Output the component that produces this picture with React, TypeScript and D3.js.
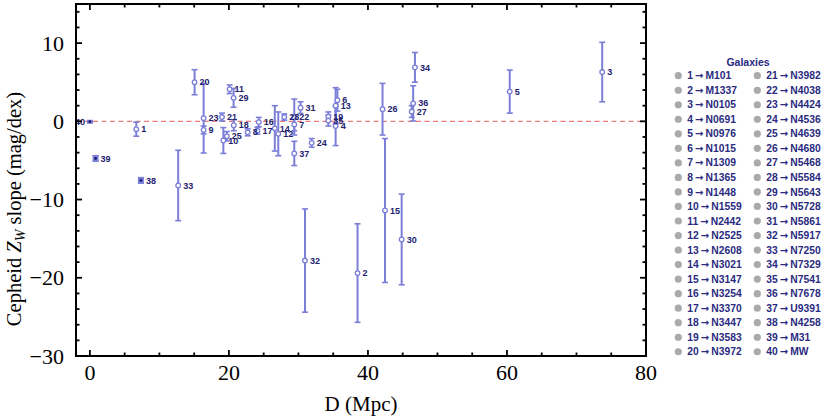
import React from "react";
import * as d3 from "d3";

const ids = [1,2,3,4,5,6,7,8,9,10,11,12,13,14,15,16,17,18,19,20,21,22,23,24,25,26,27,28,29,30,31,32,33,34,35,36,37,38,39,40];
const names = ["M101","M1337","N0105","N0691","N0976","N1015","N1309","N1365","N1448","N1559","N2442","N2525","N2608","N3021","N3147","N3254","N3370","N3447","N3583","N3972","N3982","N4038","N4424","N4536","N4639","N4680","N5468","N5584","N5643","N5728","N5861","N5917","N7250","N7329","N7541","N7678","U9391","N4258","M31","MW"];
const distances = [6.67,38.5,73.7,35.35,60.4,35.6,29.4,22.7,16.36,19.2,20.1,27.1,35.35,26.6,42.45,24.3,24.1,20.7,34.3,15.06,19.0,29.4,16.36,31.9,19.7,42.1,46.3,27.96,20.67,44.85,30.3,30.94,12.7,46.76,34.3,46.5,29.4,7.34,0.82,0.0];
const slopes = [-1.0,-19.4,6.3,-0.6,3.8,2.7,-0.4,-1.4,-1.1,-2.45,4.1,-1.6,2.0,-0.9,-11.4,-0.1,-1.2,-0.5,0.6,5.0,0.55,0.55,0.4,-2.75,-1.9,1.55,1.25,0.55,3.0,-15.1,1.75,-17.8,-8.2,6.9,0.1,2.3,-4.1,-7.55,-4.75,-0.05];
const errors = [0.9,6.3,3.8,2.5,2.75,1.4,0.8,0.45,0.5,1.65,0.55,2.8,2.3,2.9,9.2,0.6,0.45,0.7,0.6,1.6,0.5,2.3,4.45,0.55,0.6,3.3,0.75,0.4,1.2,5.8,0.75,6.6,4.5,1.9,0.7,2.25,1.55,0.35,0.35,0.15];
const xTicks = [0,20,40,60,80];
const yTicks = [-30,-20,-10,0,10];

const W = 830, H = 420;
const L = 76, R = 646, T = 4, B = 356;

export default function App() {
  const x = d3.scaleLinear().domain([-2, 80]).range([L, R]);
  const y = d3.scaleLinear().domain([-30, 15]).range([B, T]);
  const barColor = "#7b7fd8";
  const labelColor = "#22226e";
  const serif = "'Liberation Serif', 'Times New Roman', serif";
  const sans = "'Liberation Sans', Arial, sans-serif";
  const xMinor = d3.range(0, 81, 5);
  const yMinor = d3.range(-30, 15.01, 2);
  const rows = ids.map((id, i) => ({ id, name: names[i], d: distances[i], v: slopes[i], e: errors[i] }));
  const rowH = 14.53;

  return (
    <svg width={W} height={H} style={{ position: "absolute", left: 0, top: 0, background: "#fff" }} xmlns="http://www.w3.org/2000/svg">
      <rect x={0} y={0} width={W} height={H} fill="#fff" />
      <line x1={L} x2={R} y1={y(0)} y2={y(0)} stroke="#ec7a7a" strokeWidth={1.3} strokeDasharray="5,3.5" />
      {rows.map(r => {
        const px = x(r.d);
        const y1 = y(r.v + r.e), y2 = y(r.v - r.e);
        return (
          <g key={"e" + r.id}>
            <line x1={px} x2={px} y1={y1} y2={y2} stroke={barColor} strokeWidth={2} />
            <line x1={px - 3} x2={px + 3} y1={y1} y2={y1} stroke={barColor} strokeWidth={1.6} />
            <line x1={px - 3} x2={px + 3} y1={y2} y2={y2} stroke={barColor} strokeWidth={1.6} />
          </g>
        );
      })}
      {rows.map(r => {
        const small = r.e < 0.4;
        return (
          <g key={"p" + r.id}>
            {small ? (
              <>
                <rect x={x(r.d) - 3} y={y(r.v + r.e) - 0.5} width={6} height={y(r.v - r.e) - y(r.v + r.e) + 1} fill={barColor} />
                <circle cx={x(r.d)} cy={y(r.v)} r={1.4} fill="#1c1c70" />
              </>
            ) : (
              <circle cx={x(r.d)} cy={y(r.v)} r={2.3} fill="#fff" stroke={barColor} strokeWidth={1.3} />
            )}
          </g>
        );
      })}
      {rows.map(r => (
        <text key={"l" + r.id}
          x={r.id === 40 ? x(r.d) - 5 : x(r.d) + 5}
          y={y(r.v)} dy="0.35em"
          textAnchor={r.id === 40 ? "end" : "start"}
          fontFamily={sans} fontWeight="bold" fontSize={9} fill={labelColor}>{r.id}</text>
      ))}
      <rect x={L} y={T} width={R - L} height={B - T} fill="none" stroke="#000" strokeWidth={2} />
      {xMinor.map(t => {
        const major = t % 20 === 0;
        const len = major ? 6 : 3.5;
        return (
          <g key={"xt" + t}>
            <line x1={x(t)} x2={x(t)} y1={B} y2={B - len} stroke="#000" strokeWidth={1.8} />
            <line x1={x(t)} x2={x(t)} y1={T} y2={T + len} stroke="#000" strokeWidth={1.8} />
          </g>
        );
      })}
      {yMinor.map(t => {
        const major = Math.abs(Math.round(t)) % 10 === 0;
        const len = major ? 6 : 3.5;
        return (
          <g key={"yt" + t}>
            <line x1={L} x2={L + len} y1={y(t)} y2={y(t)} stroke="#000" strokeWidth={1.8} />
            <line x1={R} x2={R - len} y1={y(t)} y2={y(t)} stroke="#000" strokeWidth={1.8} />
          </g>
        );
      })}
      {xTicks.map(t => (
        <text key={"xl" + t} x={x(t)} y={380} textAnchor="middle" fontFamily={serif} fontSize={22} fill="#000">{t}</text>
      ))}
      {yTicks.map(t => (
        <text key={"yl" + t} x={64} y={y(t)} dy="0.35em" textAnchor="end" fontFamily={serif} fontSize={22} fill="#000">{t < 0 ? "\u2212" + Math.abs(t) : t}</text>
      ))}
      <text x={(L + R) / 2} y={411} textAnchor="middle" fontFamily={serif} fontSize={21} fill="#000">D (Mpc)</text>
      <text transform={`translate(21,209) rotate(-90)`} textAnchor="middle" fontFamily={serif} fontSize={20.5} fill="#000">
        <tspan>Cepheid  </tspan>
        <tspan fontStyle="italic">Z</tspan>
        <tspan fontStyle="italic" fontSize={14} dy={4}>W</tspan>
        <tspan dy={-4}> slope (mag/dex)</tspan>
      </text>
      <text x={748} y={62} dy="0.35em" textAnchor="middle" fontFamily={sans} fontWeight="bold" fontSize={10.5} fill="#2a2a80">Galaxies</text>
      {rows.map((r, i) => {
        const col = i < 20 ? 0 : 1;
        const row = i % 20;
        const cy = 75.7 + row * rowH;
        const cx = col === 0 ? 678.3 : 757.3;
        return (
          <g key={"lg" + r.id}>
            <circle cx={cx} cy={cy} r={3.6} fill="#aaaaaa" />
            <text x={cx + 9} y={cy} dy="0.35em" fontFamily={sans} fontWeight="bold" fontSize={10.3} fill="#2a2a80">
              {`${r.id}\u2009`}
              <tspan fontFamily="'DejaVu Sans', sans-serif" fontWeight="bold" fontSize={10}>{"\u2192"}</tspan>
              {`\u2009${r.name}`}
            </text>
          </g>
        );
      })}
    </svg>
  );
}
